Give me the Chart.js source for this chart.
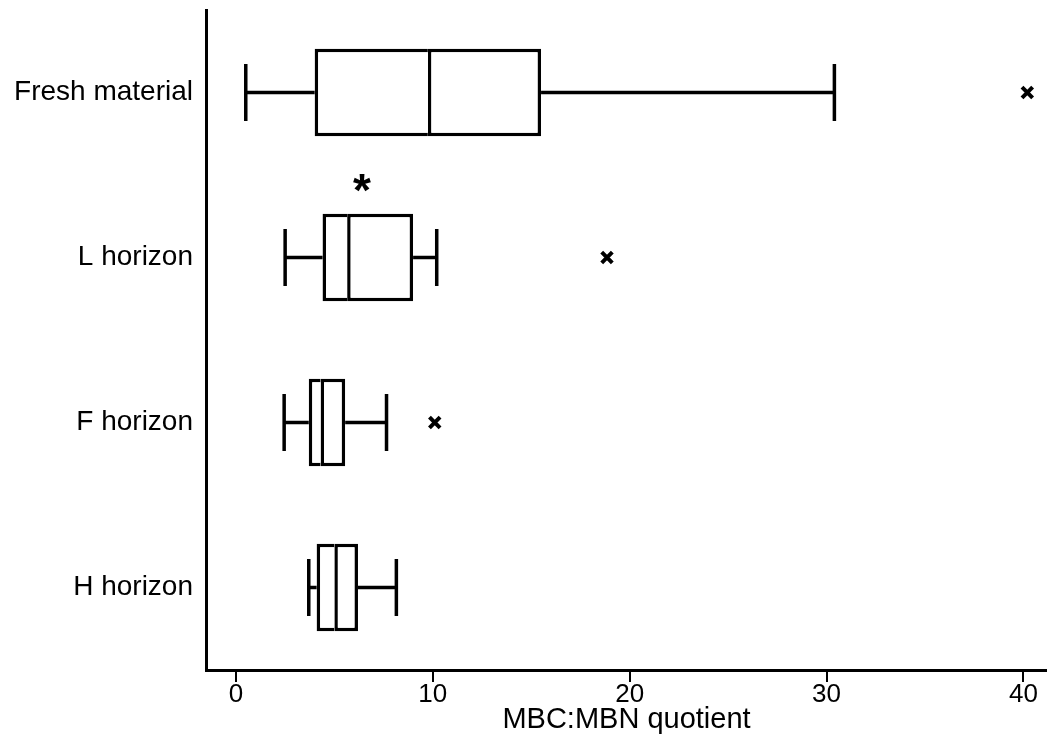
<!DOCTYPE html>
<html lang="en">
<head>
<meta charset="UTF-8">
<title>MBC:MBN quotient</title>
<script src="https://cdn.jsdelivr.net/npm/chart.js"></script>
<style>
  html, body { margin: 0; padding: 0; background: #fff; }
  #wrap { width: 1047px; height: 745px; }
</style>
</head>
<body>
<div id="wrap"><canvas id="box" width="1047" height="745"></canvas></div>
<script>
// categories and five-number summaries
const horizons = ['Fresh material', 'L horizon', 'F horizon', 'H horizon'];
const whiskerLow = [0.5, 2.5, 2.45, 3.7];
const q1 = [4.0, 4.4, 3.7, 4.1];
const median = [9.75, 5.65, 4.3, 5.0];
const q3 = [15.5, 9.0, 5.55, 6.2];
const whiskerHigh = [30.4, 10.2, 7.65, 8.15];
const outliers = [
  { x: 40.2, y: 'Fresh material' },
  { x: 18.85, y: 'L horizon' },
  { x: 10.1, y: 'F horizon' }
];
// significance mark between the first two rows
const starX = 6.4;
const starRow = 0.53;
const xTicks = [0, 10, 20, 30, 40];

const FONT = 'Arial, "Liberation Sans", sans-serif';
const LW = 3.5;

// whiskers, caps and the asterisk, placed with the chart's scales
const whiskerPlugin = {
  id: 'whiskers',
  afterDatasetsDraw(chart) {
    const { ctx, scales: { x, y } } = chart;
    const step = y.getPixelForValue(1) - y.getPixelForValue(0);
    const cap = step * 0.345 / 2;
    ctx.save();
    ctx.strokeStyle = '#000';
    ctx.lineWidth = LW;
    ctx.lineCap = 'butt';
    horizons.forEach((h, i) => {
      const yc = y.getPixelForValue(i);
      const lo = x.getPixelForValue(whiskerLow[i]);
      const hi = x.getPixelForValue(whiskerHigh[i]);
      ctx.beginPath();
      ctx.moveTo(lo, yc); ctx.lineTo(x.getPixelForValue(q1[i]), yc);
      ctx.moveTo(x.getPixelForValue(q3[i]), yc); ctx.lineTo(hi, yc);
      ctx.moveTo(lo, yc - cap); ctx.lineTo(lo, yc + cap);
      ctx.moveTo(hi, yc - cap); ctx.lineTo(hi, yc + cap);
      ctx.stroke();
    });
    // asterisk
    const sy = y.getPixelForValue(0) + step * starRow;
    const size = 46;
    ctx.fillStyle = '#000';
    ctx.font = 'bold ' + size + 'px ' + FONT;
    ctx.textAlign = 'center';
    ctx.textBaseline = 'alphabetic';
    ctx.fillText('*', x.getPixelForValue(starX), sy + size * 0.57);
    ctx.restore();
  }
};

const boxStyle = {
  type: 'bar',
  indexAxis: 'y',
  backgroundColor: '#fff',
  borderColor: '#000',
  borderSkipped: false,
  grouped: false,
  barPercentage: 0.53,
  categoryPercentage: 1.0
};

new Chart(document.getElementById('box'), {
  type: 'bar',
  data: {
    labels: horizons,
    datasets: [
      Object.assign({
        label: 'lower',
        data: horizons.map((h, i) => [q1[i], median[i]]),
        borderWidth: { left: LW, top: LW, bottom: LW, right: 0 }
      }, boxStyle),
      Object.assign({
        label: 'upper',
        data: horizons.map((h, i) => [median[i], q3[i]]),
        borderWidth: { left: LW, top: LW, bottom: LW, right: LW }
      }, boxStyle),
      {
        type: 'scatter',
        label: 'outliers',
        indexAxis: 'y',
        data: outliers,
        pointStyle: 'crossRot',
        pointRadius: 7.5,
        pointBorderWidth: 4,
        borderColor: '#000',
        backgroundColor: '#000'
      }
    ]
  },
  options: {
    indexAxis: 'y',
    responsive: false,
    animation: false,
    layout: { autoPadding: false, padding: { top: 10, right: 0, left: 0, bottom: 0 } },
    plugins: {
      legend: { display: false },
      tooltip: { enabled: false }
    },
    scales: {
      x: {
        type: 'linear',
        min: -1.52,
        max: 41.2,
        afterBuildTicks: (axis) => { axis.ticks = xTicks.map(v => ({ value: v })); },
        afterFit: (axis) => { axis.height = 75; axis.paddingLeft = 0; axis.paddingRight = 0; },
        border: { display: true, color: '#000', width: 3 },
        grid: { display: true, drawOnChartArea: false, drawTicks: true, tickLength: 12, color: '#000', lineWidth: 2 },
        ticks: { color: '#000', padding: -3, font: { family: FONT, size: 26 }, maxRotation: 0 },
        title: {
          display: true,
          text: 'MBC:MBN quotient',
          color: '#000',
          font: { family: FONT, size: 29 },
          padding: { top: 0, bottom: 8 }
        }
      },
      y: {
        type: 'category',
        labels: horizons,
        afterFit: (axis) => { axis.width = 206; axis.paddingTop = 0; axis.paddingBottom = 0; },
        border: { display: true, color: '#000', width: 3 },
        grid: { display: true, drawOnChartArea: false, drawTicks: false },
        ticks: { color: '#000', padding: 13, font: { family: FONT, size: 28 } }
      }
    }
  },
  plugins: [whiskerPlugin]
});
</script>
</body>
</html>
